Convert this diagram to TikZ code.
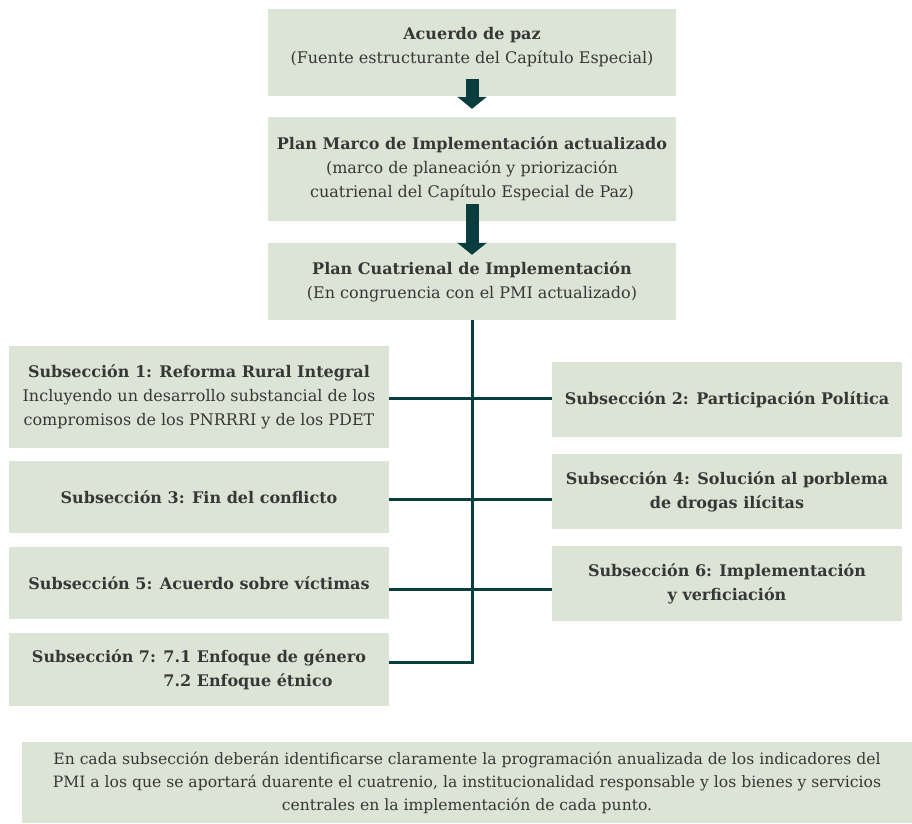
\documentclass[tikz,border=0pt]{standalone}
\usepackage{fontspec}
\setmainfont{DejaVu Serif}
\usetikzlibrary{arrows.meta}
\definecolor{boxfill}{RGB}{220,229,213}
\definecolor{linec}{RGB}{10,61,62}
\definecolor{txt}{RGB}{55,55,55}
\tikzset{
  box/.style={fill=boxfill, draw=none, inner sep=0pt, align=center, text=txt,
    font=\fontsize{16}{24}\selectfont},
  boxtext/.style={inner sep=0pt, align=center, text=txt,
    font=\fontsize{16}{24}\selectfont},
  conn/.style={draw=linec, line width=3pt},
  bigarrow/.style={draw=linec, line width=13pt, -{Triangle[length=12pt,width=29pt]}}
}
\begin{document}
\begin{tikzpicture}[x=1pt,y=-1pt]
\useasboundingbox (0,0) rectangle (912,823);
\node[box, minimum width=408pt, minimum height=87pt] (b1) at (472,52.5) {};
\node[boxtext] (b1t) at ([yshift=5pt]b1.center)
  {\textbf{Acuerdo de paz}\\(Fuente estructurante del Capítulo Especial)};
\node[box, minimum width=408pt, minimum height=104pt] (b2) at (472,169)
  {\textbf{Plan Marco de Implementación actualizado}\\(marco de planeación y priorización\\cuatrienal del Capítulo Especial de Paz)};
\node[box, minimum width=408pt, minimum height=77pt] (b3) at (472,281.5)
  {\textbf{Plan Cuatrienal de Implementación}\\(En congruencia con el PMI actualizado)};
\node[box, minimum width=380pt, minimum height=102pt] (l1) at (199,397)
  {\textbf{Subsección 1: Reforma Rural Integral}\\Incluyendo un desarrollo substancial de los\\compromisos de los PNRRRI y de los PDET};
\node[box, minimum width=380pt, minimum height=72pt] (l2) at (199,497)
  {\textbf{Subsección 3: Fin del conflicto}};
\node[box, minimum width=380pt, minimum height=72pt] (l3) at (199,583)
  {\textbf{Subsección 5: Acuerdo sobre víctimas}};
\node[box, minimum width=380pt, minimum height=73pt] (l4) at (199,669.5)
  {\bfseries\begin{tabular}{@{}r@{ }l@{}}Subsección 7:&7.1 Enfoque de género\\&7.2 Enfoque étnico\end{tabular}};
\node[box, minimum width=350pt, minimum height=75pt] (r1) at (727,399.5)
  {\textbf{Subsección 2: Participación Política}};
\node[box, minimum width=350pt, minimum height=75pt] (r2) at (727,491.5)
  {\textbf{Subsección 4: Solución al porblema}\\\textbf{de drogas ilícitas}};
\node[box, minimum width=350pt, minimum height=75pt] (r3) at (727,583.5)
  {\textbf{Subsección 6: Implementación}\\\textbf{y verficiación}};
\node[box, minimum width=890pt, minimum height=81pt, font=\fontsize{15.6}{23}\selectfont] (bt) at (467,782.5)
  {En cada subsección deberán identificarse claramente la programación anualizada de los indicadores del\\PMI a los que se aportará duarente el cuatrenio, la institucionalidad responsable y los bienes y servicios\\centrales en la implementación de cada punto.};
\coordinate (vb) at (472,662);
\draw[bigarrow] ([yshift=17pt]b1.south) -- ([yshift=8pt]b2.north);
\draw[bigarrow] ([yshift=17pt]b2.south) -- ([yshift=-12pt]b3.north);
\draw[conn] (b3.south) -- (vb);
\draw[conn] ([yshift=-1pt]l1.east) -- ([yshift=-1pt]l1.east -| r1.west);
\draw[conn] ([yshift=-2pt]l2.east) -- ([yshift=-2pt]l2.east -| r2.west);
\draw[conn] ([yshift=-6pt]l3.east) -- ([yshift=-6pt]l3.east -| r3.west);
\draw[conn] (vb -| l4.east) -- ([xshift=1.5pt]vb);
\end{tikzpicture}
\end{document}
